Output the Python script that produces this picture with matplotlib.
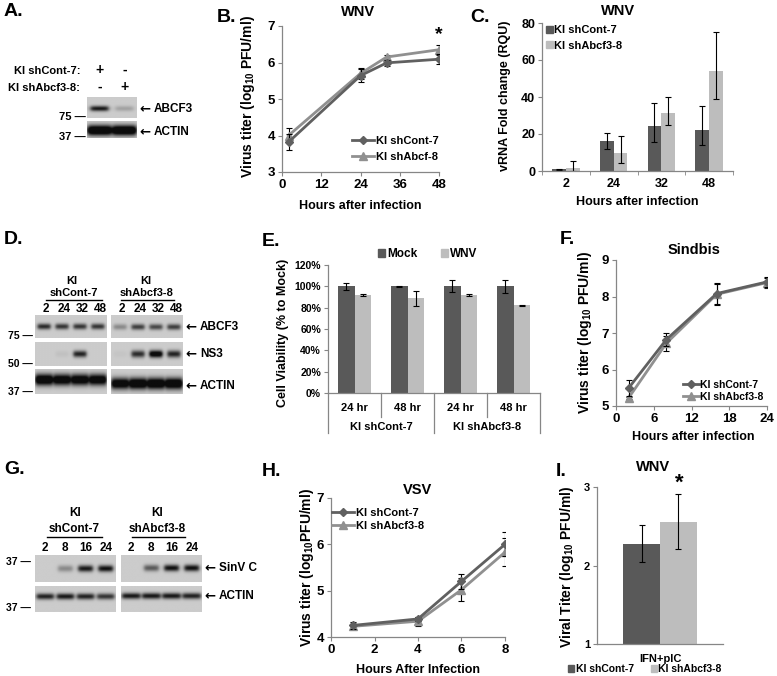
import numpy as np
import matplotlib
matplotlib.use('Agg')
import matplotlib.pyplot as plt
from matplotlib.lines import Line2D
from matplotlib.patches import Patch
import matplotlib.transforms as mtrans

# ---------------- data ----------------
# Panel A (western blot band intensities, lanes: shCont-7, shAbcf3-8)
a_cont_sign = ['+', '-']
a_abcf_sign = ['-', '+']
a_abcf3 = [0.95, 0.22]
a_actin = [1.5, 1.5]

# Panel B (WNV titer)
b_hours = [2, 24, 32, 48]
b_cont = [3.82, 5.64, 5.99, 6.09]
b_cont_err = [0.21, 0.17, 0.09, 0.13]
b_abcf = [4.00, 5.70, 6.15, 6.35]
b_abcf_err = [0.20, 0.15, 0.05, 0.14]
b_xticks = [0, 12, 24, 36, 48]
b_yticks = [3, 4, 5, 6, 7]

# Panel C (vRNA fold change)
c_cats = ['2', '24', '32', '48']
c_cont = [0.9, 16.0, 24.1, 22.3]
c_cont_lo = [0.3, 4.3, 8.4, 8.4]
c_cont_hi = [0.3, 4.5, 12.7, 12.7]
c_abcf = [1.8, 9.7, 31.5, 53.9]
c_abcf_lo = [1.8, 5.4, 6.5, 15.2]
c_abcf_hi = [3.8, 9.0, 8.5, 21.2]
c_yticks = [0, 20, 40, 60, 80]

# Panel D (blot)
d_lanes = ['2', '24', '32', '48']
d_abcf3_cont = [0.85, 0.8, 0.8, 0.8]
d_abcf3_abcf = [0.35, 0.75, 0.7, 0.75]
d_ns3_cont = [0.0, 0.06, 0.9, 0.0]
d_ns3_abcf = [0.04, 0.85, 1.25, 0.9]
d_actin_cont = [1.4, 1.3, 1.3, 1.3]
d_actin_abcf = [1.3, 1.4, 1.4, 1.4]

# Panel E (cell viability)
e_groups = ['KI shCont-7', 'KI shAbcf3-8']
e_times = ['24 hr', '48 hr', '24 hr', '48 hr']
e_mock = [100, 100, 100, 100]
e_mock_err = [3.0, 0.4, 5.5, 6.0]
e_wnv = [91.5, 88.8, 91.5, 82.3]
e_wnv_err = [1.0, 7.0, 1.0, 0.6]
e_yticks = [0, 20, 40, 60, 80, 100, 120]

# Panel F (Sindbis)
f_hours = [2, 8, 16, 24]
f_cont = [5.49, 6.82, 8.08, 8.40]
f_cont_err = [0.22, 0.18, 0.28, 0.13]
f_abcf = [5.22, 6.72, 8.06, 8.38]
f_abcf_err = [0.04, 0.20, 0.28, 0.14]
f_xticks = [0, 6, 12, 18, 24]
f_yticks = [5, 6, 7, 8, 9]

# Panel G (blot)
g_lanes = ['2', '8', '16', '24']
g_sinv_cont = [0.0, 0.35, 0.95, 1.0]
g_sinv_abcf = [0.0, 0.6, 1.0, 1.0]
g_actin_cont = [0.9, 0.95, 0.9, 0.8]
g_actin_abcf = [0.95, 0.95, 0.95, 0.9]

# Panel H (VSV)
h_hours = [1, 4, 6, 8]
h_cont = [4.25, 4.39, 5.20, 6.00]
h_cont_err = [0.07, 0.04, 0.16, 0.26]
h_abcf = [4.23, 4.34, 5.02, 5.83]
h_abcf_err = [0.05, 0.10, 0.25, 0.30]
h_xticks = [0, 2, 4, 6, 8]
h_yticks = [4, 5, 6, 7]

# Panel I (WNV, IFN+pIC)
i_cat = ['IFN+pIC']
i_cont = [2.28]
i_cont_err = [0.23]
i_abcf = [2.56]
i_abcf_err = [0.345]
i_yticks = [1, 2, 3]

# ---------------- style ----------------
W, H = 777, 676
plt.rcParams['font.family'] = ['Liberation Sans', 'DejaVu Sans']
plt.rcParams['font.weight'] = 'bold'
plt.rcParams['mathtext.fontset'] = 'custom'
plt.rcParams['mathtext.rm'] = 'Liberation Sans:bold'
plt.rcParams['mathtext.bf'] = 'Liberation Sans:bold'

DARK_L = '#606060'
LIGHT_L = '#909090'
DARK_B = '#595959'
LIGHT_B = '#bdbdbd'
SPINE = '#868686'

fig = plt.figure(figsize=(W / 100, H / 100), dpi=100)


def R(l, t, r, b):
    return [l / W, 1 - b / H, (r - l) / W, (b - t) / H]


def T(x, y, s, size=9, ha='center', va='center', **kw):
    return fig.text(x / W, 1 - y / H, s, fontsize=size, ha=ha, va=va,
                    fontweight='bold', **kw)


def L(x0, x1, y0, y1, **kw):
    fig.add_artist(Line2D([x0 / W, x1 / W], [1 - y0 / H, 1 - y1 / H],
                          transform=fig.transFigure, **kw))


def arrow_label(x, y, label, size=8.5):
    T(x, y, '\u2190', size=9.5, ha='left', family=['DejaVu Sans'])
    T(x + 15, y, label, size=size, ha='left')


def style(ax, fs):
    for s in ['top', 'right']:
        ax.spines[s].set_visible(False)
    for s in ['left', 'bottom']:
        ax.spines[s].set_color(SPINE)
        ax.spines[s].set_linewidth(0.9)
    ax.tick_params(direction='out', length=3, width=0.8, color=SPINE,
                   pad=2, labelsize=fs)


def blot(l, t, r, b, intens, yc=0.5, thick=0.16, lane_w=0.72, bg=0.80):
    ax = fig.add_axes(R(l, t, r, b))
    n = len(intens)
    nx, ny = 240, 60
    xs = np.linspace(-0.5, n - 0.5, nx)
    ys = np.linspace(0, 1, ny)
    img = np.full((ny, nx), bg)
    for i, a in enumerate(intens):
        px = 1 / (1 + np.exp(-(lane_w / 2 - np.abs(xs - i)) / 0.05))
        py = np.exp(-((ys - yc) / thick) ** 2)
        img = img - a * (bg - 0.05) * np.outer(py, px)
    img = np.clip(img, 0.05, 1)
    ax.imshow(img, cmap='gray', vmin=0, vmax=1, aspect='auto',
              extent=(-0.5, n - 0.5, 1, 0), interpolation='bilinear')
    ax.set_axis_off()
    return ax


def lane_x(l, r, n, i):
    return l + (i + 0.5) * (r - l) / n


def legend_at(ax, handles, labels, x, y, fs=8, **kw):
    opts = dict(loc='upper left', bbox_to_anchor=(x / W, 1 - y / H),
                bbox_transform=fig.transFigure, frameon=False,
                prop={'weight': 'bold', 'size': fs}, borderpad=0,
                borderaxespad=0)
    opts.update(kw)
    return ax.legend(handles, labels, **opts)


# ---------------- Panel A ----------------
T(4, 11, 'A.', size=14, ha='left')
T(80, 71, 'KI shCont-7:', size=8, ha='right')
T(80, 88, 'KI shAbcf3-8:', size=8, ha='right')
for i in range(2):
    T(lane_x(87, 137, 2, i), 70, a_cont_sign[i], size=10)
    T(lane_x(87, 137, 2, i), 87, a_abcf_sign[i], size=10)
blot(87, 97, 137, 118, a_abcf3, yc=0.55, thick=0.13)
blot(87, 121, 137, 138, a_actin, yc=0.55, thick=0.30, lane_w=0.95)
T(86, 117, '75 \u2014', size=8, ha='right')
T(86, 137, '37 \u2014', size=8, ha='right')
arrow_label(139, 109, 'ABCF3')
arrow_label(139, 132, 'ACTIN')

# ---------------- Panel B ----------------
T(217, 17, 'B.', size=14, ha='left')
axB = fig.add_axes(R(282, 26, 439, 172))
ekw = dict(ecolor='black', elinewidth=0.8, capsize=2, capthick=0.8)
axB.errorbar(b_hours, b_cont, yerr=b_cont_err, color=DARK_L, marker='D',
             ms=4.5, lw=2, zorder=3, **ekw)
axB.errorbar(b_hours, b_abcf, yerr=b_abcf_err, color=LIGHT_L, marker='^',
             ms=6, lw=2, zorder=2, **ekw)
axB.set_xlim(0, 48)
axB.set_ylim(3, 7)
axB.set_xticks(b_xticks)
axB.set_yticks(b_yticks)
style(axB, 9.5)
T(358, 12, 'WNV', size=10.5)
T(439, 35, '*', size=14)
T(248, 97, r'Virus titer (log$_{\mathregular{10}}$ PFU/ml)', size=10, rotation=90)
T(360, 206, 'Hours after infection', size=9)
hB = [Line2D([], [], color=DARK_L, marker='D', ms=4.5, lw=2),
      Line2D([], [], color=LIGHT_L, marker='^', ms=6, lw=2)]
legend_at(axB, hB, ['KI shCont-7', 'KI shAbcf-8'], 352, 136, fs=8,
          handlelength=2.0, handletextpad=0.15, labelspacing=0.55)

# ---------------- Panel C ----------------
T(470, 17, 'C.', size=14, ha='left')
axC = fig.add_axes(R(542, 23, 733, 171))
xc = np.arange(len(c_cats))
bw = 0.29
axC.bar(xc - bw / 2, c_cont, bw, color=DARK_B, yerr=[c_cont_lo, c_cont_hi],
        error_kw=dict(elinewidth=0.8, capsize=2, capthick=0.8, ecolor='black'))
axC.bar(xc + bw / 2, c_abcf, bw, color=LIGHT_B, yerr=[c_abcf_lo, c_abcf_hi],
        error_kw=dict(elinewidth=0.8, capsize=2, capthick=0.8, ecolor='black'))
axC.set_xlim(-0.5, len(c_cats) - 0.5)
axC.set_ylim(0, 80)
axC.set_yticks(c_yticks)
axC.set_xticks(xc)
axC.set_xticklabels(c_cats)
axC.set_xticks(np.arange(len(c_cats) + 1) - 0.5, minor=True)
style(axC, 9)
axC.tick_params(axis='x', which='major', length=0, pad=5)
axC.tick_params(axis='x', which='minor', length=3, color=SPINE)
T(618, 11, 'WNV', size=10.5)
T(505, 96, 'vRNA Fold change (RQU)', size=9, rotation=90)
T(637, 202, 'Hours after infection', size=9)
hC = [Patch(color=DARK_B), Patch(color=LIGHT_B)]
legend_at(axC, hC, ['KI shCont-7', 'KI shAbcf3-8'], 546, 25, fs=8,
          handlelength=0.6, handleheight=0.6, handletextpad=0.15,
          labelspacing=0.5)

# ---------------- Panel D ----------------
T(4, 240, 'D.', size=14, ha='left')
T(72, 281, 'KI', size=8)
T(74, 293, 'shCont-7', size=8)
L(46, 102, 300, 300, color='black', lw=1)
T(146, 281, 'KI', size=8)
T(147, 293, 'shAbcf3-8', size=8)
L(121, 174, 300, 300, color='black', lw=1)
for (l, r) in [(35, 107), (111, 183)]:
    for i, lab in enumerate(d_lanes):
        T(lane_x(l, r, 4, i) + 2, 309, lab, size=8.5)
blot(35, 315, 107, 338, d_abcf3_cont, yc=0.5, thick=0.13)
blot(111, 315, 183, 338, d_abcf3_abcf, yc=0.52, thick=0.13)
blot(35, 342, 107, 366, d_ns3_cont, yc=0.5, thick=0.14)
blot(111, 342, 183, 366, d_ns3_abcf, yc=0.5, thick=0.15)
blot(35, 369, 107, 394, d_actin_cont, yc=0.45, thick=0.22, lane_w=0.95)
blot(111, 369, 183, 394, d_actin_abcf, yc=0.6, thick=0.22, lane_w=0.95)
T(33, 336, '75 \u2014', size=7.5, ha='right')
T(33, 364, '50 \u2014', size=7.5, ha='right')
T(33, 392, '37 \u2014', size=7.5, ha='right')
arrow_label(185, 327, 'ABCF3')
arrow_label(185, 354, 'NS3')
arrow_label(185, 386, 'ACTIN')

# ---------------- Panel E ----------------
T(262, 241, 'E.', size=14, ha='left')
axE = fig.add_axes(R(328, 265, 540, 393))
xe = np.arange(len(e_times))
bwe = 0.31
ek = dict(elinewidth=0.8, capsize=2, capthick=0.8, ecolor='black')
axE.bar(xe - bwe / 2, e_mock, bwe, color=DARK_B, yerr=e_mock_err, error_kw=ek)
axE.bar(xe + bwe / 2, e_wnv, bwe, color=LIGHT_B, yerr=e_wnv_err, error_kw=ek)
axE.set_xlim(-0.5, len(e_times) - 0.5)
axE.set_ylim(0, 120)
axE.set_yticks(e_yticks)
axE.set_yticklabels(['%d%%' % v for v in e_yticks])
axE.set_xticks([])
style(axE, 7.5)
trE = mtrans.blended_transform_factory(axE.transData, axE.transAxes)
for i, t in enumerate(e_times):
    axE.text(i, -0.117, t, transform=trE, ha='center', va='center',
             fontsize=8, fontweight='bold')
for g, name in enumerate(e_groups):
    axE.text(2 * g + 0.5, -0.266, name, transform=trE, ha='center',
             va='center', fontsize=8, fontweight='bold')
for k, xs in enumerate(np.arange(len(e_times) + 1) - 0.5):
    ybot = -0.3125 if k % 2 == 0 else -0.19
    axE.plot([xs, xs], [0, ybot], transform=trE, color=SPINE, lw=0.9,
             clip_on=False)
T(283, 333, 'Cell Viability (% to Mock)', size=9, rotation=90)
hE = [Patch(color=DARK_B), Patch(color=LIGHT_B)]
legend_at(axE, hE, ['Mock', 'WNV'], 378, 248, fs=8.5, ncol=2,
          handlelength=0.6, handleheight=0.6, handletextpad=0.15,
          columnspacing=2.0)

# ---------------- Panel F ----------------
T(560, 239, 'F.', size=14, ha='left')
axF = fig.add_axes(R(616, 260, 767, 406))
axF.errorbar(f_hours, f_cont, yerr=f_cont_err, color=DARK_L, marker='D',
             ms=4.5, lw=2, zorder=3, **ekw)
axF.errorbar(f_hours, f_abcf, yerr=f_abcf_err, color=LIGHT_L, marker='^',
             ms=6, lw=2, zorder=2, **ekw)
axF.set_xlim(0, 24)
axF.set_ylim(5, 9)
axF.set_xticks(f_xticks)
axF.set_yticks(f_yticks)
style(axF, 9.5)
T(694, 250, 'Sindbis', size=10.5)
T(585, 333, r'Virus titer (log$_{\mathregular{10}}$ PFU/ml)', size=10, rotation=90)
T(693, 437, 'Hours after infection', size=9)
legend_at(axF, hB, ['KI shCont-7', 'KI shAbcf3-8'], 683, 380, fs=7.5,
          handlelength=1.5, handletextpad=0.15, labelspacing=0.15)

# ---------------- Panel G ----------------
T(4, 470, 'G.', size=14, ha='left')
T(75, 513, 'KI', size=8.5)
T(74, 529, 'shCont-7', size=8.5)
L(47, 102, 537, 537, color='black', lw=1)
T(157, 513, 'KI', size=8.5)
T(157, 529, 'shAbcf3-8', size=8.5)
L(132, 185, 537, 537, color='black', lw=1)
for (l, r) in [(35, 116), (121, 202)]:
    for i, lab in enumerate(g_lanes):
        T(lane_x(l, r, 4, i), 548, lab, size=8.5)
blot(35, 555, 116, 582, g_sinv_cont, yc=0.52, thick=0.12)
blot(121, 555, 202, 582, g_sinv_abcf, yc=0.5, thick=0.12)
blot(35, 586, 116, 612, g_actin_cont, yc=0.4, thick=0.12, lane_w=0.85)
blot(121, 586, 202, 612, g_actin_abcf, yc=0.38, thick=0.12, lane_w=0.9)
T(31, 562, '37 \u2014', size=7.5, ha='right')
T(31, 608, '37 \u2014', size=7.5, ha='right')
arrow_label(204, 568, 'SinV C')
arrow_label(204, 596, 'ACTIN')

# ---------------- Panel H ----------------
T(262, 471, 'H.', size=14, ha='left')
axH = fig.add_axes(R(331, 498, 505, 637))
axH.errorbar(h_hours, h_cont, yerr=h_cont_err, color=DARK_L, marker='D',
             ms=4.5, lw=2, zorder=3, **ekw)
axH.errorbar(h_hours, h_abcf, yerr=h_abcf_err, color=LIGHT_L, marker='^',
             ms=6, lw=2, zorder=2, **ekw)
axH.set_xlim(0, 8)
axH.set_ylim(4, 7)
axH.set_xticks(h_xticks)
axH.set_yticks(h_yticks)
style(axH, 9.5)
T(418, 490, 'VSV', size=10.5)
T(307, 567, r'Virus titer (log$_{\mathregular{10}}$PFU/ml)', size=10, rotation=90)
T(418, 670, 'Hours After Infection', size=9)
legend_at(axH, hB, ['KI shCont-7', 'KI shAbcf3-8'], 332, 508, fs=8,
          handlelength=2.0, handletextpad=0.15, labelspacing=0.3)

# ---------------- Panel I ----------------
T(556, 471, 'I.', size=14, ha='left')
axI = fig.add_axes(R(597, 487, 723, 644))
bwi = 0.29
axI.bar([-bwi / 2], i_cont, bwi, bottom=0, color=DARK_B, yerr=i_cont_err,
        error_kw=ek)
axI.bar([bwi / 2], i_abcf, bwi, bottom=0, color=LIGHT_B, yerr=i_abcf_err,
        error_kw=ek)
axI.set_xlim(-0.5, 0.5)
axI.set_ylim(1, 3)
axI.set_yticks(i_yticks)
axI.set_xticks([0])
axI.set_xticklabels(i_cat)
style(axI, 8)
axI.tick_params(axis='x', length=0, pad=7)
T(653, 467, 'WNV', size=10.5)
T(679, 483, '*', size=16)
T(567, 567, r'Viral Titer (log$_{\mathregular{10}}$ PFU/ml)', size=10, rotation=90)
legend_at(axI, hE, ['KI shCont-7', 'KI shAbcf3-8'], 568, 664, fs=7.5,
          ncol=2, handlelength=0.6, handleheight=0.6, handletextpad=0.15,
          columnspacing=1.6)

fig.savefig('out.png', dpi=100)
